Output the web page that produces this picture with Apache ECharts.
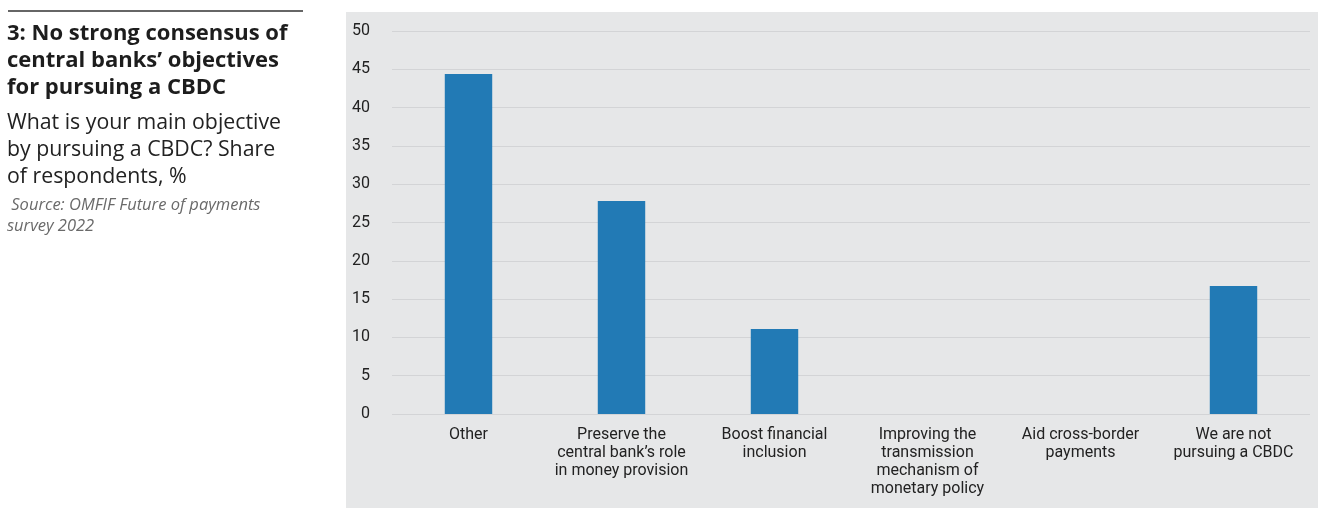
<!DOCTYPE html>
<html><head><meta charset="utf-8">
<script src="https://cdn.jsdelivr.net/npm/echarts@6/dist/echarts.min.js"></script>
<style>html,body{margin:0;padding:0;background:#fff}#c{width:1330px;height:517px}</style>
</head><body><div id="c"></div>
<script>
const categories = ["Other", "Preserve the\ncentral bank’s role\nin money provision", "Boost financial\ninclusion", "Improving the\ntransmission\nmechanism of\nmonetary policy", "Aid cross-border\npayments", "We are not\npursuing a CBDC"];
const values = [44.4, 27.8, 11.1, 0, 0, 16.7];
const yTicks = [0, 5, 10, 15, 20, 25, 30, 35, 40, 45, 50];
const titleText = "3: No strong consensus of\ncentral banks’ objectives\nfor pursuing a CBDC";
const subtitleText = "What is your main objective\nby pursuing a CBDC? Share\nof respondents, %";
const sourceText = " Source: OMFIF Future of payments\nsurvey 2022";

const axisFont = "'Liberation Sans Narrow','Roboto',sans-serif";
const textFont = "'Open Sans','Lato',sans-serif";
const chart = echarts.init(document.getElementById('c'));
chart.setOption({
  animation: false,
  backgroundColor: '#fff',
  graphic: [
    {type: 'rect', shape: {x: 346, y: 12, width: 972, height: 496}, style: {fill: '#e6e7e8'}, z: -10, silent: true},
    {type: 'line', shape: {x1: 8, y1: 11, x2: 303, y2: 11}, style: {stroke: '#333', lineWidth: 1.5}},
    {type: 'text', left: 7, top: 20, style: {text: titleText, font: "bold 22px " + textFont, lineHeight: 27, fill: '#1d1d1d'}},
    {type: 'text', left: 7, top: 109, style: {text: subtitleText, font: "21.3px " + textFont, lineHeight: 27, fill: '#222'}},
    {type: 'text', left: 7, top: 195, style: {text: sourceText, font: "italic 16.5px " + textFont, lineHeight: 21, fill: '#6a6a6a'}}
  ],
  grid: {left: 392, right: 20, top: 31, bottom: 103},
  xAxis: {
    type: 'category', data: categories,
    axisLine: {show: false}, axisTick: {show: false},
    axisLabel: {interval: 0, color: '#222', fontSize: 16, fontFamily: axisFont, lineHeight: 18, margin: 12}
  },
  yAxis: {
    type: 'value', min: 0, max: 50, interval: 5,
    axisLine: {show: false}, axisTick: {show: false},
    splitLine: {lineStyle: {color: '#d3d4d6', width: 1}},
    axisLabel: {color: '#222', fontSize: 16, fontFamily: axisFont, margin: 22,
      formatter: v => yTicks.includes(v) ? String(v) : ''}
  },
  series: [{
    type: 'bar', data: values, barWidth: '31%',
    itemStyle: {color: '#227ab5'}
  }]
});
</script></body></html>
